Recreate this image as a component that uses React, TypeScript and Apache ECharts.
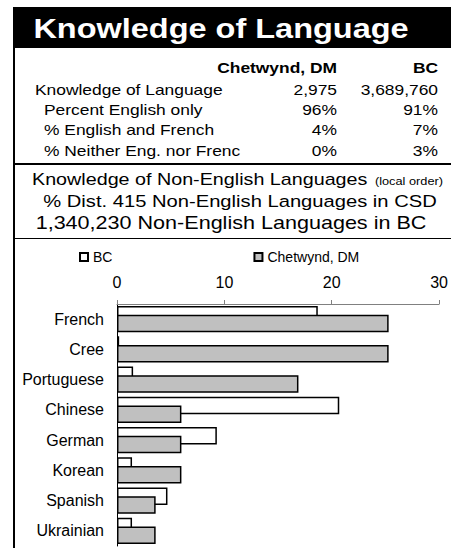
import React, { useEffect, useRef } from "react";
import * as echarts from "echarts";

const FONT = "'Liberation Sans', Arial, Helvetica, sans-serif";
const SX = 1.16;

const titleText = "Knowledge of Language";
const tableHeaders = ["Chetwynd, DM", "BC"];
const tableRowLabels = [
  "Knowledge of Language",
  "Percent English only",
  "% English and French",
  "% Neither Eng. nor French",
];
const localColumn = ["2,975", "96%", "4%", "0%"];
const bcColumn = ["3,689,760", "91%", "7%", "3%"];
const sectionTitle = "Knowledge of Non-English Languages";
const sectionNote = "(local order)";
const sectionLine2 = "% Dist. 415 Non-English Languages in CSD";
const sectionLine3 = "1,340,230 Non-English Languages in BC";

const categories = ["French", "Cree", "Portuguese", "Chinese", "German", "Korean", "Spanish", "Ukrainian"];
const bcValues = [18.7, 0.2, 1.5, 20.7, 9.3, 1.4, 4.7, 1.4];
const localValues = [25.3, 25.3, 16.9, 6.0, 6.0, 6.0, 3.6, 3.6];
const seriesNames = ["BC", "Chetwynd, DM"];

function txt(x: number, y: number, text: string, font: string, align: string, extra: any = {}) {
  return {
    type: "text",
    x,
    y,
    scaleX: SX,
    style: { text, fill: "#000", font, align, verticalAlign: "middle", ...extra },
  };
}

export default function App() {
  const ref = useRef<HTMLDivElement>(null);
  useEffect(() => {
    if (!ref.current) return;
    const chart = echarts.init(ref.current, null, { renderer: "svg" });

    const rowY = [89, 109, 129, 150];
    const rowX = [35, 44, 44, 44];
    const graphics: any[] = [
      { type: "rect", shape: { x: 13, y: 7, width: 438, height: 41 }, style: { fill: "#000" } },
      {
        type: "text",
        x: 221,
        y: 28,
        scaleX: SX,
        style: { text: titleText, fill: "#fff", font: `bold 28px ${FONT}`, align: "center", verticalAlign: "middle" },
      },
      { type: "rect", shape: { x: 13, y: 48, width: 2, height: 500 }, style: { fill: "#000" } },
      { type: "rect", shape: { x: 13, y: 163, width: 438, height: 2 }, style: { fill: "#000" } },
      { type: "rect", shape: { x: 13, y: 238, width: 438, height: 1 }, style: { fill: "#000" } },
      txt(337, 67, tableHeaders[0], `bold 15px ${FONT}`, "right"),
      txt(438, 67, tableHeaders[1], `bold 15px ${FONT}`, "right"),
    ];
    tableRowLabels.forEach((label, i) => {
      const isLast = i === tableRowLabels.length - 1;
      graphics.push(
        txt(
          rowX[i],
          rowY[i],
          label,
          `15px ${FONT}`,
          "left",
          isLast ? { width: 175, overflow: "truncate", ellipsis: "" } : {}
        )
      );
      graphics.push(txt(337, rowY[i], localColumn[i], `15px ${FONT}`, "right"));
      graphics.push(txt(438, rowY[i], bcColumn[i], `15px ${FONT}`, "right"));
    });
    graphics.push(
      txt(32, 179, sectionTitle, `17px ${FONT}`, "left"),
      txt(443, 181, sectionNote, `11px ${FONT}`, "right"),
      txt(240, 201, sectionLine2, `17.4px ${FONT}`, "center"),
      txt(231, 223, sectionLine3, `18.6px ${FONT}`, "center")
    );

    chart.setOption({
      animation: false,
      backgroundColor: "#fff",
      textStyle: { fontFamily: FONT },
      graphic: graphics,
      legend: {
        data: seriesNames,
        left: 74,
        top: 245,
        itemWidth: 8,
        itemHeight: 8,
        itemGap: 141,
        icon: "rect",
        textStyle: { fontSize: 14, color: "#000", fontFamily: FONT },
      },
      grid: { left: 117, right: 10, top: 304, bottom: 2, containLabel: false },
      xAxis: {
        type: "value",
        position: "top",
        min: 0,
        max: 30,
        interval: 10,
        axisLine: { show: true, lineStyle: { color: "#808080", width: 1 } },
        axisTick: { show: true, length: 4, lineStyle: { color: "#808080" } },
        axisLabel: { color: "#000", fontSize: 16, margin: 14, fontFamily: FONT },
        splitLine: { show: false },
      },
      yAxis: {
        type: "category",
        data: categories,
        inverse: true,
        axisLine: { show: true, lineStyle: { color: "#000", width: 1 } },
        axisTick: { show: false },
        axisLabel: { color: "#000", fontSize: 16, margin: 13, fontFamily: FONT },
      },
      series: [
        {
          name: seriesNames[0],
          type: "bar",
          data: bcValues,
          barWidth: 17.5,
          barGap: "-50%",
          itemStyle: { color: "#fff", borderColor: "#000", borderWidth: 1.5 },
        },
        {
          name: seriesNames[1],
          type: "bar",
          data: localValues,
          barWidth: 17.5,
          barGap: "-50%",
          itemStyle: { color: "#c0c0c0", borderColor: "#000", borderWidth: 1.5 },
        },
      ],
    });
    return () => chart.dispose();
  }, []);
  return (
    <div
      ref={ref}
      style={{ position: "fixed", left: 0, top: 0, width: 451, height: 548, background: "#fff" }}
    />
  );
}
